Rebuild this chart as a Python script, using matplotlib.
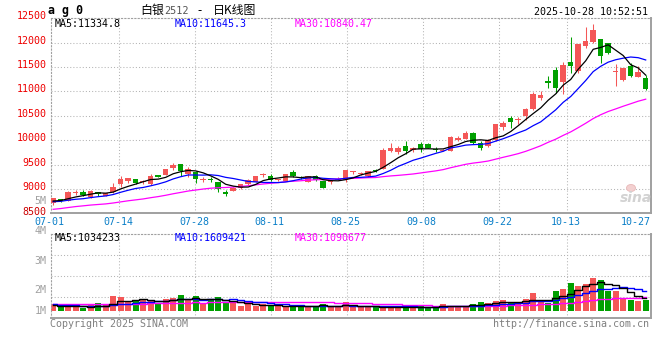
import matplotlib
matplotlib.use('Agg')
import matplotlib.pyplot as plt
from matplotlib.patches import Ellipse
import numpy as np

# ---------------- data ----------------
date_labels = ['07-01', '07-14', '07-28', '08-11', '08-25', '09-08', '09-22', '10-13', '10-27']
date_index = [0, 9, 19, 29, 39, 49, 59, 68, 78]

opens = [8705, 8787, 8752, 8925, 8937, 8828, 8937, 8862, 8930, 9094,
         9160, 9203, 9140, 9094, 9285, 9285, 9434, 9510, 9299, 9346,
         9190, 9185, 9141, 8943, 8963, 9012, 9094, 9141, 9280, 9270,
         9180, 9168, 9346, 9225, 9148, 9270, 9162, 9150, 9185, 9182,
         9345, 9315, 9264, 9380, 9408, 9777, 9762, 9879, 9797, 9926,
         9914, 9815, 9780, 9783, 10002, 10022, 10152, 9934, 9880, 10002,
         10275, 10459, 10420, 10500, 10637, 10869, 11211, 11436, 11184, 11594,
         11422, 11934, 12016, 12071, 11996, 11400, 11231, 11518, 11299, 11278]
highs = [8810, 8800, 8950, 8978, 8980, 8978, 8940, 8915, 9127, 9270,
         9230, 9210, 9180, 9305, 9290, 9410, 9540, 9515, 9440, 9360,
         9250, 9240, 9150, 8970, 9040, 9100, 9200, 9275, 9330, 9300,
         9200, 9310, 9390, 9260, 9270, 9290, 9170, 9175, 9250, 9390,
         9375, 9340, 9375, 9400, 9844, 9934, 9880, 9980, 9860, 9960,
         9940, 9860, 9815, 10080, 10090, 10180, 10160, 9990, 10020, 10340,
         10390, 10500, 10480, 10670, 10990, 11010, 11310, 11500, 11600, 12119,
         11980, 12320, 12380, 12080, 12000, 11555, 11490, 11590, 11520, 11330]
lows = [8670, 8740, 8745, 8875, 8855, 8810, 8855, 8855, 8920, 9045,
        9130, 9110, 9100, 9090, 9240, 9280, 9390, 9270, 9250, 9115,
        9140, 9150, 8943, 8865, 8950, 9005, 9080, 9135, 9240, 9170,
        9170, 9160, 9240, 9200, 9140, 9170, 9020, 9110, 9175, 9148,
        9315, 9290, 9250, 9350, 9400, 9760, 9710, 9710, 9750, 9760,
        9830, 9760, 9770, 9770, 9990, 10015, 9920, 9800, 9870, 9990,
        10200, 10250, 10340, 10410, 10620, 10820, 11070, 10960, 10940, 11369,
        11370, 11890, 12000, 11586, 11760, 11111, 11220, 11290, 11290, 11020]
closes = [8807, 8752, 8943, 8935, 8875, 8957, 8890, 8908, 9045, 9203,
          9220, 9120, 9150, 9270, 9245, 9401, 9490, 9360, 9401, 9197,
          9200, 9180, 9004, 8895, 9012, 9094, 9189, 9270, 9290, 9182,
          9190, 9305, 9264, 9215, 9264, 9176, 9025, 9170, 9195, 9387,
          9355, 9325, 9367, 9370, 9797, 9832, 9832, 9777, 9844, 9824,
          9844, 9803, 9790, 10070, 10049, 10152, 9934, 9832, 10000, 10330,
          10344, 10377, 10430, 10637, 10944, 10924, 11164, 11074, 11539, 11524,
          11972, 12030, 12256, 11730, 11791, 11420, 11484, 11313, 11401, 11056]
volumes = [540000, 350000, 350000, 350000, 270000, 460000, 620000, 460000, 1210000, 1130000,
           810000, 780000, 970000, 890000, 620000, 970000, 1050000, 1290000, 860000, 1210000,
           620000, 860000, 1130000, 620000, 730000, 400000, 540000, 400000, 540000, 400000,
           400000, 400000, 400000, 480000, 350000, 400000, 590000, 350000, 350000, 730000,
           320000, 320000, 320000, 320000, 400000, 320000, 320000, 380000, 240000, 460000,
           310000, 310000, 530000, 390000, 390000, 390000, 540000, 725000, 640000, 770000,
           855000, 725000, 640000, 930000, 1470000, 725000, 620000, 1630000, 1785000, 2251100,
           2030000, 2200000, 2630000, 2460000, 1603045, 1600000, 950000, 900000, 810000, 911165]

# closes / volumes of the 29 sessions before 07-01 (only feed the moving averages)
pre_closes = [8290, 8310, 8350, 8420, 8480, 8530, 8560, 8482, 8520, 8540,
              8560, 8580, 8500, 8570, 8590, 8560, 8530, 8550, 8590, 8568,
              8680, 8710, 8740, 8760, 8730, 8700, 8760, 8753, 8740]
pre_volumes = [550000, 620000, 700000, 800000, 720000, 600000, 580000, 660000, 750000, 680000,
               600000, 550000, 580000, 620000, 650000, 600000, 550000, 580000, 600000, 710000,
               620000, 580000, 600000, 550000, 600000, 480000, 450000, 420000, 440000]

symbol = 'a g 0'
timestamp = '2025-10-28 10:52:51'
price_ticks = [8500, 9000, 9500, 10000, 10500, 11000, 11500, 12000, 12500]

# ---------------- style ----------------
RED = '#f45757'
GREEN = '#00a000'
GRID = '#b4b4b4'
BORDER = '#a0a0a0'
MONO = 'DejaVu Sans Mono'
CJK = ['Noto Sans CJK SC', 'DejaVu Sans']
FS = 7.2

W, H = 660, 360
fig = plt.figure(figsize=(6.6, 3.6), dpi=100)
fig.patch.set_facecolor('white')


def T(px, py, s, **kw):
    kw.setdefault('family', MONO)
    kw.setdefault('fontsize', FS)
    kw.setdefault('va', 'center')
    return fig.text(px / W, 1 - py / H, s, **kw)


L, R = 50.7, 650.7
MT, MB = 18.3, 213.3
VT, VB = 234.3, 317.7
ax = fig.add_axes([L / W, 1 - MB / H, (R - L) / W, (MB - MT) / H])
axv = fig.add_axes([L / W, 1 - VB / H, (R - L) / W, (VB - VT) / H])

O = np.array(opens, float)
Hh = np.array(highs, float)
Lo = np.array(lows, float)
C = np.array(closes, float)
V = np.array(volumes, float)
n = len(C)
x = np.arange(n)

# slot geometry: candle 0 centre at 53.2 px, 7.5 px per session
x0px, step = 53.2, 7.5
xlim = ((L - x0px) / step, (R - x0px) / step)
grid_step = (R - L) / (n - 1)
grid_x = [(L + i * grid_step - x0px) / step for i in date_index]

dot = (0, (1.0, 2.0))


def style_axes(a):
    a.set_xlim(*xlim)
    a.set_xticks([])
    a.set_yticks([])
    a.set_facecolor('white')
    for s in ['left', 'top']:
        a.spines[s].set_color(BORDER)
        a.spines[s].set_linestyle(dot)
        a.spines[s].set_linewidth(0.8)
    for s in ['right', 'bottom']:
        a.spines[s].set_color(BORDER)
        a.spines[s].set_linewidth(1.4)
    for gx in grid_x[1:-1]:
        a.axvline(gx, color=GRID, lw=0.75, ls=dot, zorder=0)


def sma(series, pre, k):
    allv = np.array(list(pre) + list(series), float)
    off = len(pre)
    return np.array([allv[j - k + 1:j + 1].mean() for j in range(off, len(allv))])


# ---------------- price panel ----------------
style_axes(ax)
ax.set_ylim(price_ticks[0], price_ticks[-1])
for v in price_ticks[1:-1]:
    ax.axhline(v, color=GRID, lw=0.75, ls=dot, zorder=0)

up = C >= O
cols = np.where(up, RED, GREEN)
ax.vlines(x, Lo, Hh, colors=cols, lw=0.75, zorder=2)
body = np.maximum(np.abs(C - O), 20)
ax.bar(x, body, bottom=np.minimum(O, C), width=0.74, color=cols, linewidth=0, zorder=3)

ma5 = sma(C, pre_closes, 5)
ma10 = sma(C, pre_closes, 10)
ma30 = sma(C, pre_closes, 30)
ax.plot(x, ma30, color='#ff00ff', lw=0.9, zorder=4)
ax.plot(x, ma10, color='#0000ff', lw=0.9, zorder=4)
ax.plot(x, ma5, color='black', lw=0.9, zorder=4)

# price labels
for v in price_ticks:
    py = MB - (v - price_ticks[0]) / (price_ticks[-1] - price_ticks[0]) * (MB - MT) - 2
    col = '#cc0000' if v == price_ticks[0] else '#ee0000'
    if v == price_ticks[0]:
        py = MB - 1
    T(46.5, py, str(v), ha='right', color=col)

# date labels
for lab, gx, i in zip(date_labels, grid_x, date_index):
    if i == date_index[-1]:
        ax.text(xlim[1], -0.043, lab, transform=ax.get_xaxis_transform(), ha='right', va='center',
                family=MONO, fontsize=FS, color='#0a7fc8', clip_on=False)
    else:
        ax.text(gx - 0.15, -0.043, lab, transform=ax.get_xaxis_transform(), ha='center', va='center',
                family=MONO, fontsize=FS, color='#0a7fc8', clip_on=False)

# sina watermark (eye logo as a patch, word as text)
fig.patches.append(Ellipse((631 / W, 1 - 188 / H), 9 / W, 7 / H, transform=fig.transFigure,
                           facecolor='#f3d0d0', edgecolor='#e8b8b8', lw=0.6))
T(636, 198, 'sina', ha='center', family='DejaVu Sans', fontsize=10, fontstyle='italic',
  fontweight='bold', color='#d2d2d2')

# ---------------- volume panel ----------------
style_axes(axv)
vs = 12.4  # px per million
zero_py = 311.0
axv.set_ylim(-(VB - zero_py) / vs * 1e6, (zero_py - VT) / vs * 1e6)
for f in [0.25, 0.5, 0.75]:
    axv.axhline(axv.get_ylim()[0] + f * (axv.get_ylim()[1] - axv.get_ylim()[0]),
                color=GRID, lw=0.75, ls=dot, zorder=0)
axv.bar(x, V, width=0.8, color=cols, linewidth=0, zorder=2)
vma5 = sma(V, pre_volumes, 5)
vma10 = sma(V, pre_volumes, 10)
vma30 = sma(V, pre_volumes, 30)
axv.plot(x, vma30, color='#ff00ff', lw=1.0, drawstyle='steps-mid', zorder=3)
axv.plot(x, vma10, color='#0000ff', lw=1.0, drawstyle='steps-mid', zorder=3)
axv.plot(x, vma5, color='black', lw=1.0, drawstyle='steps-mid', zorder=3)

for lab, py in [('5M', 201), ('4M', 231), ('3M', 261), ('2M', 290), ('1M', 310.5)]:
    T(46.5, py, lab, ha='right', color='#a0a0a0')

# ---------------- header texts ----------------
T(48.5, 10.5, symbol, ha='left', fontweight='bold', fontsize=8.4, color='black')
T(140, 10.8, '白银', ha='left', family=CJK, fontsize=8.6, color='black')
T(164, 10.8, '2512', ha='left', fontsize=7.4, color='#555555')
T(200, 10.8, '-', ha='center', family=CJK, fontsize=8.6, color='black')
T(213, 10.8, '日K线图', ha='left', family=CJK, fontsize=8.6, color='black')
T(648.5, 12.3, timestamp, ha='right', color='black')

T(54.5, 24, f'MA5:{ma5[-1]:.1f}', ha='left', color='black')
T(174.5, 24, f'MA10:{ma10[-1]:.1f}', ha='left', color='#0000ff')
T(294.5, 24, f'MA30:{ma30[-1]:.2f}', ha='left', color='#ff00ff')

T(54.5, 238.3, f'MA5:{vma5[-1]:.0f}', ha='left', color='black')
T(174.5, 238.3, f'MA10:{vma10[-1]:.0f}', ha='left', color='#0000ff')
T(294.5, 238.3, f'MA30:{vma30[-1]:.0f}', ha='left', color='#ff00ff')

T(50, 324, 'Copyright 2025 SINA.COM', ha='left', color='#808080')
T(649, 324, 'http://finance.sina.com.cn', ha='right', color='#808080')

fig.savefig('out.png', dpi=100, facecolor='white')
